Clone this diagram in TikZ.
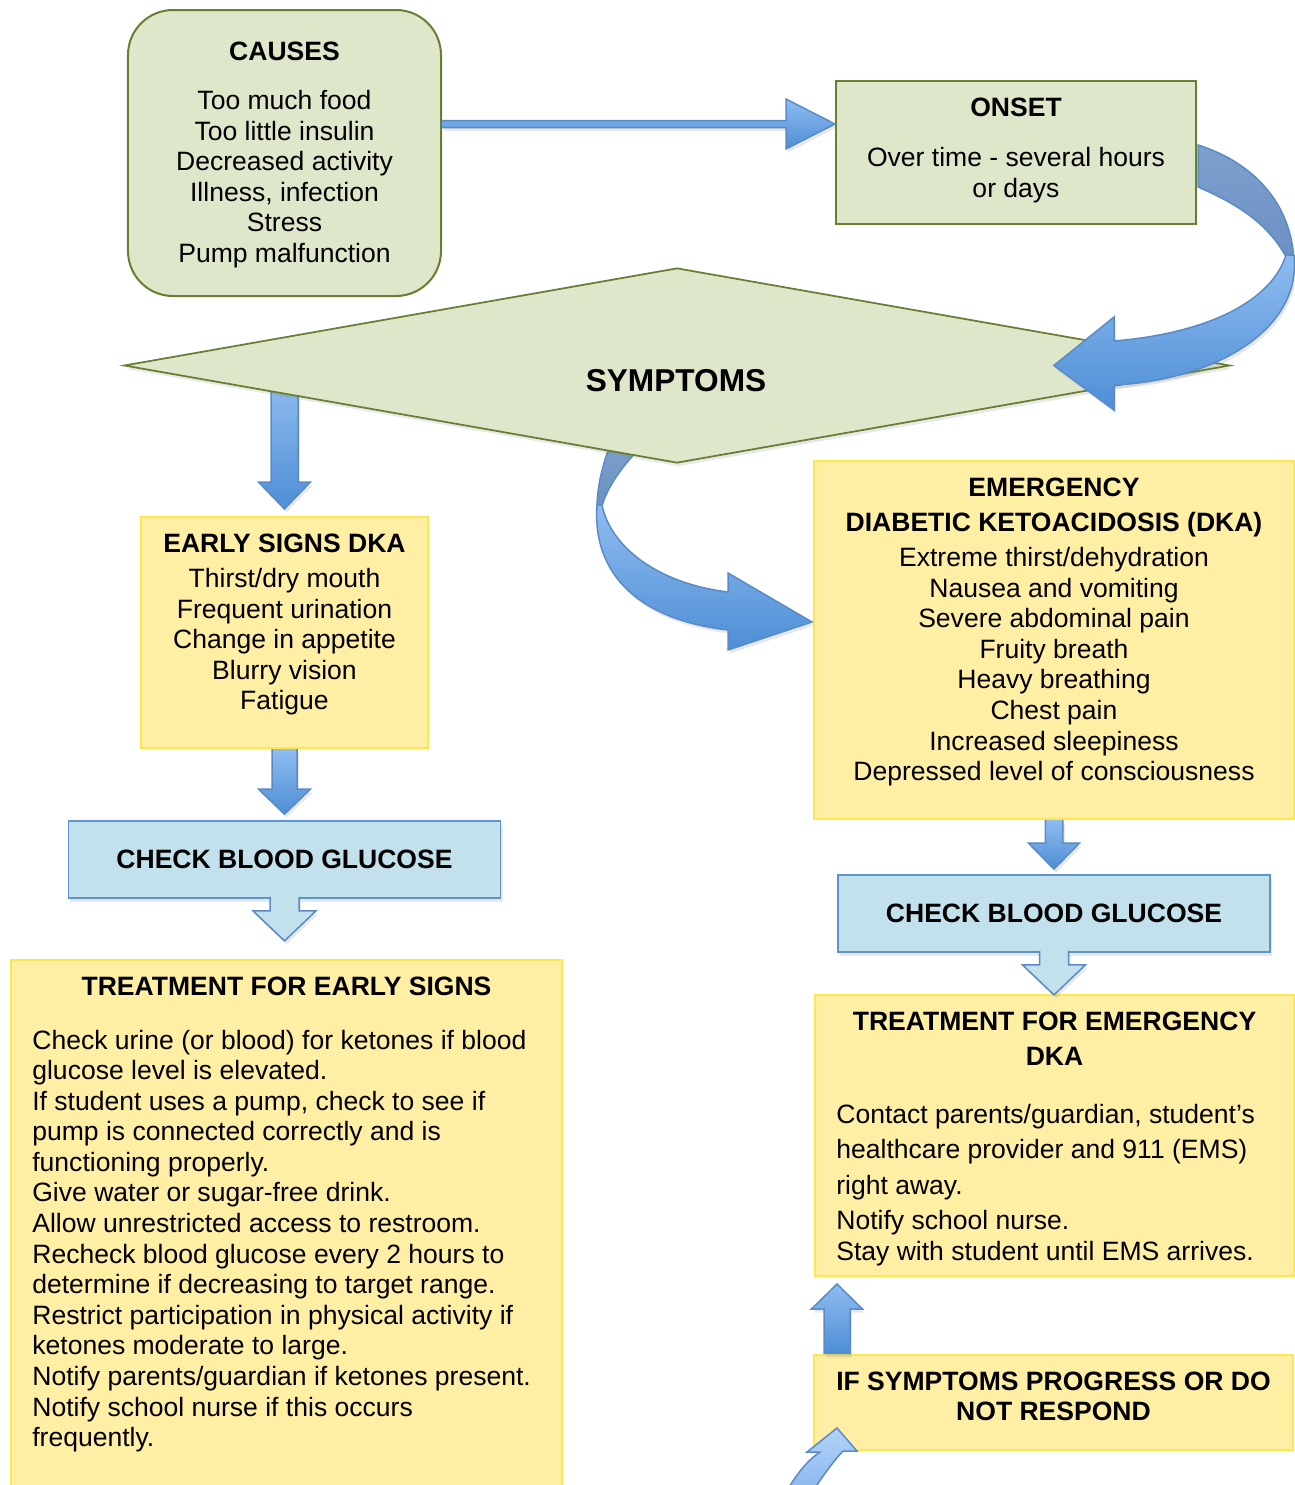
\documentclass[tikz,border=0pt]{standalone}
\usepackage{fontspec}
\setmainfont{Liberation Sans}
\usepackage{tikz}
\usetikzlibrary{calc,shapes.geometric,shadows}

\definecolor{greenfill}{HTML}{DEE7CA}
\definecolor{greenline}{HTML}{677E33}
\definecolor{yellowfill}{HTML}{FFEFA4}
\definecolor{yellowline}{HTML}{FFE64F}
\definecolor{checkfill}{HTML}{C2E1EC}
\definecolor{checkline}{HTML}{5F95CF}
\definecolor{arrowtop}{HTML}{8FBCF0}
\definecolor{arrowbot}{HTML}{4E8ED6}
\definecolor{arrowline}{HTML}{5A8BC7}
\definecolor{backtop}{HTML}{7DA0CD}
\definecolor{backbot}{HTML}{6B90C2}
\definecolor{paletop}{HTML}{B3D3F8}
\definecolor{palebot}{HTML}{8AB7EE}

\tikzset{
    softshadow/.style={drop shadow={shadow xshift=0.4mm, shadow yshift=-0.7mm, opacity=0.18}},
    greenbox/.style={draw=greenline, fill=greenfill, line width=0.4mm, inner sep=0pt},
    yellowbox/.style={draw=yellowline, fill=yellowfill, line width=0.4mm, inner sep=0pt},
    checkbox/.style={draw=checkline, fill=checkfill, line width=0.35mm, inner sep=0pt,
        font=\bfseries\fontsize{15.1}{17.4}\selectfont, softshadow},
    txt/.style={font=\fontsize{15.1}{17.4}\selectfont, inner sep=0pt, align=center, anchor=north},
    bluearrow/.style={top color=arrowtop, bottom color=arrowbot, softshadow},
    outlinearrow/.style={fill=checkfill, softshadow},
    arrowedge/.style={draw=arrowline, line width=0.3mm},
    backband/.style={top color=backtop, bottom color=backbot, draw=arrowline, line width=0.3mm},
    frontband/.style={top color=arrowtop, bottom color=arrowbot, draw=arrowline, line width=0.3mm, softshadow},
    paleband/.style={top color=paletop, bottom color=palebot, draw=arrowline, line width=0.3mm}
}

% block arrow: [fill style]{from}{tip}{shaft half width}{head half width}{head length}
\newcommand{\blockarrow}[6][bluearrow]{%
    \coordinate (ba-h) at ($(#3)!#6!(#2)$);
    \coordinate (ba-a1) at ($(#2)!#4!90:(#3)$);
    \coordinate (ba-a2) at ($(#2)!#4!-90:(#3)$);
    \coordinate (ba-b1) at ($(ba-h)!#4!90:(#3)$);
    \coordinate (ba-b2) at ($(ba-h)!#4!-90:(#3)$);
    \coordinate (ba-c1) at ($(ba-h)!#5!90:(#3)$);
    \coordinate (ba-c2) at ($(ba-h)!#5!-90:(#3)$);
    \path[#1] (ba-a1) -- (ba-b1) -- (ba-c1) -- (#3) -- (ba-c2) -- (ba-b2) -- (ba-a2) -- cycle;
    \draw[arrowedge] (ba-a1) -- (ba-b1) -- (ba-c1) -- (#3) -- (ba-c2) -- (ba-b2) -- (ba-a2);
}

\begin{document}
\begin{tikzpicture}[x=0.2mm, y=-0.2mm]
    \useasboundingbox (0,0) rectangle (1295,1485);

% boxes
\node[greenbox, rounded corners=9mm, minimum width=62.6mm, minimum height=57.2mm] (causes) at (284.5,153) {};
\node[txt] (causes-txt) at (284.5,41.5) {\textbf{CAUSES}\\[3.7mm] Too much food\\ Too little insulin\\ Decreased activity\\ Illness, infection\\ Stress\\ Pump malfunction};

\node[greenbox, minimum width=72mm, minimum height=28.6mm] (onset) at (1016,152.5) {};
\node[txt] (onset-txt) at (1016,97.5) {\textbf{ONSET}\\[3.9mm] Over time - several hours\\ or days};

\node[yellowbox, minimum width=57.4mm, minimum height=46.2mm] (early) at (284.5,632.5) {};
\node[txt] (early-txt) at (284.5,533.5) {\textbf{EARLY SIGNS DKA}\\[0.9mm] Thirst/dry mouth\\ Frequent urination\\ Change in appetite\\ Blurry vision\\ Fatigue};

\node[yellowbox, minimum width=96mm, minimum height=71.6mm] (emergency) at (1054,640) {};
\node[txt] (emergency-txt) at (1054,477.5) {\textbf{EMERGENCY}\\[0.9mm] \textbf{DIABETIC KETOACIDOSIS (DKA)}\\[0.9mm] Extreme thirst/dehydration\\ Nausea and vomiting\\ Severe abdominal pain\\ Fruity breath\\ Heavy breathing\\ Chest pain\\ Increased sleepiness\\ Depressed level of consciousness};

\node[checkbox, minimum width=86.4mm, minimum height=15.4mm] (check1) at (284.5,859.5) {CHECK BLOOD GLUCOSE};
\node[checkbox, minimum width=86.4mm, minimum height=15.4mm] (check2) at (1054,913.5) {CHECK BLOOD GLUCOSE};

\node[yellowbox, minimum width=110.2mm, minimum height=108mm] (treatE) at (286.5,1230) {};
\node[txt] (treatE-title) at (286.5,976.5) {\textbf{TREATMENT FOR EARLY SIGNS}};
\node[txt, align=left, anchor=north west] (treatE-txt) at (32,1029.5) {Check urine (or blood) for ketones if blood\\ glucose level is elevated.\\ If student uses a pump, check to see if\\ pump is connected correctly and is\\ functioning properly.\\ Give water or sugar-free drink.\\ Allow unrestricted access to restroom.\\ Recheck blood glucose every 2 hours to\\ determine if decreasing to target range.\\ Restrict participation in physical activity if\\ ketones moderate to large.\\ Notify parents/guardian if ketones present.\\ Notify school nurse if this occurs\\ frequently.};

\node[yellowbox, minimum width=95.8mm, minimum height=56.2mm] (treatM) at (1054.5,1135.5) {};
\node[txt] (treatM-title) at (1054.5,1011.5) {\textbf{TREATMENT FOR EMERGENCY}\\[0.9mm] \textbf{DKA}};
\node[txt, align=left, anchor=north west] (treatM-txt) at (836,1103.5) {Contact parents/guardian, student’s\\[1mm] healthcare provider and 911 (EMS)\\[1mm] right away.\\[1mm] Notify school nurse.\\ Stay with student until EMS arrives.};

\node[yellowbox, minimum width=95.8mm, minimum height=19mm] (ifsym) at (1053.5,1402.5) {};
\node[txt] (ifsym-txt) at (1053.5,1371.5) {\textbf{IF SYMPTOMS PROGRESS OR DO}\\ \textbf{NOT RESPOND}};

% arrows under the diamond
\coordinate (s2e-start) at (early.north |- 0,380);
\coordinate (s2e-tip) at ($(early.north)+(0,-7)$);
\blockarrow{s2e-start}{s2e-tip}{2.7mm}{5.2mm}{5.4mm}
\path[backband] (612,440) .. controls (602,465) and (597,488) .. (597,508) -- (602,506) .. controls (608,485) and (625,462) .. (648,440) -- cycle;

% symptoms
\node[diamond, draw=greenline, fill=greenfill, line width=0.35mm, inner sep=0pt, minimum width=221.2mm, minimum height=39mm, softshadow] (symptoms) at (677,365.5) {};
\node[font=\bfseries\fontsize{18}{21}\selectfont, inner sep=0pt] (symptoms-txt) at (676,381) {SYMPTOMS};

% symptoms -> emergency
\coordinate (r2tip) at ($(emergency.west)+(-1,-18)$);
\path[frontband] (597,505) .. controls (592,575) and (640,620) .. (728,630) -- (728,650) -- (r2tip) -- (728,573) -- (728,592) .. controls (655,583) and (610,545) .. (602,505) -- cycle;

% onset -> symptoms
\coordinate (r1a) at ($(onset.east)+(1,-7.5)$);
\coordinate (r1b) at ($(onset.east)+(1,34.5)$);
\coordinate (r1tip) at ($(symptoms.east)+(-177,0)$);
\path[backband] (r1a) .. controls (1255,163) and (1292,205) .. (1294,262) -- (1285,255) .. controls (1268,225) and (1240,205) .. (r1b) -- cycle;
\path[frontband] (1294,255) .. controls (1302,330) and (1215,380) .. (1114,385) -- (1114,410) -- (r1tip) -- (1114,317) -- (1114,341) .. controls (1210,333) and (1272,300) .. (1286,255) -- cycle;

% straight arrows
\coordinate (c2o-start) at (causes.east |- 0,124);
\coordinate (c2o-tip) at (onset.west |- 0,124);
\blockarrow{c2o-start}{c2o-tip}{0.7mm}{5mm}{9.8mm}

\coordinate (e2c-tip) at ($(check1.north)+(0,-6)$);
\blockarrow{early.south}{e2c-tip}{2.5mm}{5.2mm}{5mm}

\coordinate (m2c-tip) at ($(check2.north)+(0,-5)$);
\blockarrow{emergency.south}{m2c-tip}{1.75mm}{5.1mm}{5.2mm}

\coordinate (c1-start) at ($(check1.south)+(0,-2)$);
\coordinate (c1-tip) at ($(check1.south)+(0,42)$);
\blockarrow[outlinearrow]{c1-start}{c1-tip}{2.9mm}{6.3mm}{6mm}

\coordinate (c2-start) at ($(check2.south)+(0,-2)$);
\coordinate (c2-tip) at ($(check2.south)+(0,42)$);
\blockarrow[outlinearrow]{c2-start}{c2-tip}{2.9mm}{6.3mm}{6mm}

\coordinate (up-start) at ($(ifsym.north west)+(24,0)$);
\coordinate (up-tip) at ($(treatM.south west)+(23,7)$);
\blockarrow{up-start}{up-tip}{2.6mm}{5.1mm}{5mm}

% arrow coming into if symptoms
\coordinate (b-tip) at ($(ifsym.south west)+(24,-23)$);
\path[paleband] (786,1492) .. controls (798,1472) and (808,1460) .. (820,1452) -- (807,1452) -- (b-tip) -- (857,1451) -- (843,1451) .. controls (830,1465) and (822,1478) .. (812,1492) -- cycle;
\end{tikzpicture}
\end{document}
